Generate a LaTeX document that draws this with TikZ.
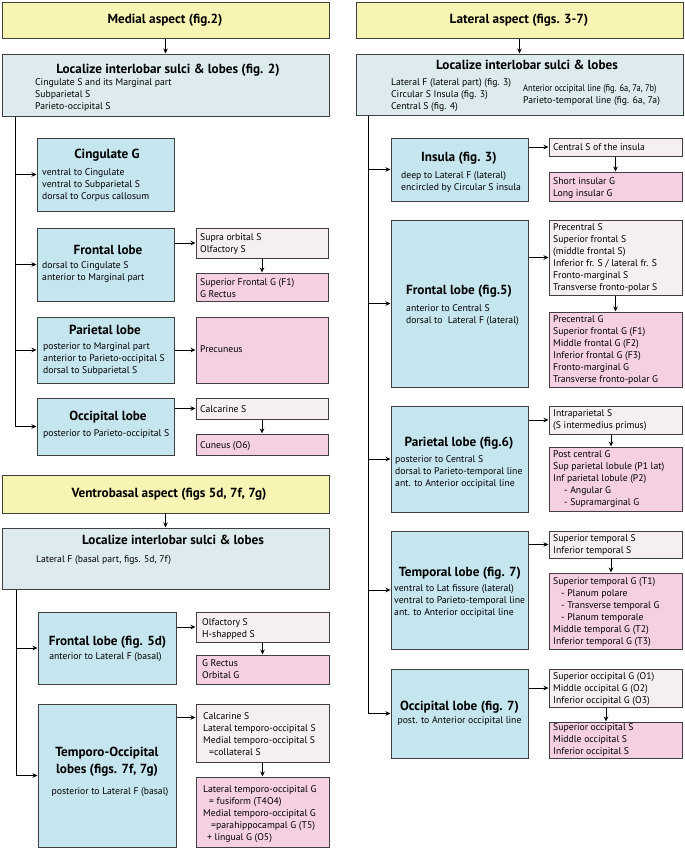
\documentclass[tikz,border=0pt]{standalone}
\usepackage{graphicx}
\usepackage{fontspec}
\setmainfont{PT Sans}
\usetikzlibrary{arrows.meta,fit,calc}
\definecolor{cyel}{RGB}{248,244,180}
\definecolor{cloc}{RGB}{221,235,239}
\definecolor{clobe}{RGB}{198,230,239}
\definecolor{csul}{RGB}{245,238,242}
\definecolor{cgyr}{RGB}{245,208,226}
\definecolor{cbord}{RGB}{64,64,64}
\newcommand\txtfont{\fontsize{9.7}{12}\selectfont}
\newcommand\ttlfont{\fontsize{13.2}{17}\selectfont\bfseries}
\begin{document}
\begin{tikzpicture}[x=1pt,y=-1pt,
 box/.style={draw=cbord, line width=1pt, inner sep=0pt},
 yel/.style={box, fill=cyel},
 loc/.style={box, fill=cloc},
 lobe/.style={box, fill=clobe},
 sul/.style={box, fill=csul},
 gyr/.style={box, fill=cgyr},
 ttl/.style={font=\ttlfont, inner sep=0pt},
 tx/.style={font=\txtfont, inner sep=0pt, anchor=north west, align=left, yshift=3.8pt},
 txc/.style={font=\txtfont, inner sep=0pt},
 arr/.style={-{Stealth[length=5pt,width=4.5pt]}, line width=0.9pt, black},
 ln/.style={line width=0.9pt, black}]
\useasboundingbox (0,0) rectangle (685,849);

% ---------- Medial aspect ----------
\node[yel, fit={(2,2) (329,38)}] (medial) {};
\node[ttl] (tmedial) at (165,20) {Medial aspect (fig.2)};
\node[loc, fit={(2,54) (329,116)}] (loc1) {};
\node[ttl] (tloc1) at (168,70) {Localize interlobar sulci \& lobes (fig. 2)};
\node[tx] (bloc1) at (35,82) {Cingulate S and its Marginal part\\Subparietal S\\Parieto-occipital S};

\node[lobe, fit={(37,138) (174,211)}] (cing) {};
\node[ttl] (tcing) at (107,155) {Cingulate G};
\node[tx] (bcing) at (42,172) {ventral to Cingulate\\ventral to Subparietal S\\dorsal to Corpus callosum};

\node[lobe, fit={(37,228) (174,301)}] (front1) {};
\node[ttl] (tfront1) at (108,250) {Frontal lobe};
\node[tx] (bfront1) at (42,265) {dorsal to Cingulate S\\anterior to Marginal part};
\node[sul, fit={(196,228) (328,258)}] (supra) {};
\node[tx] (bsupra) at (200,237) {Supra orbital S\\Olfactory S};
\node[gyr, fit={(196,273) (328,301)}] (sfg) {};
\node[tx] (bsfg) at (200,282) {Superior Frontal G (F1)\\G Rectus};

\node[lobe, fit={(37,317) (174,383)}] (par1) {};
\node[ttl] (tpar1) at (105,330) {Parietal lobe};
\node[tx] (bpar1) at (43,346) {posterior to Marginal part\\anterior to Parieto-occipital S\\dorsal to Subparietal S};
\node[gyr, fit={(196,317) (328,383)}] (prec) {};
\node[tx] (bprec) at (200,349) {Precuneus};

\node[lobe, fit={(37,398) (174,455)}] (occ1) {};
\node[ttl] (tocc1) at (108,417) {Occipital lobe};
\node[tx] (bocc1) at (43,433) {posterior to Parieto-occipital S};
\node[sul, fit={(196,398) (328,419)}] (calc1) {};
\node[tx] (bcalc1) at (200,409) {Calcarine S};
\node[gyr, fit={(196,434) (328,455)}] (cun) {};
\node[tx] (bcun) at (200,445) {Cuneus (O6)};

\draw[arr] (medial.south) -- (loc1.north);
\coordinate (sp1) at ($(loc1.south west)+(14,0)$);
\draw[arr] (sp1) |- (occ1.west);
\draw[arr] (sp1 |- cing.west) -- (cing.west);
\draw[arr] (sp1 |- front1.west) -- (front1.west);
\draw[arr] (sp1 |- par1.west) -- (par1.west);
\draw[arr] (front1.east |- supra.west) -- (supra.west);
\draw[arr] (par1.east |- prec.west) -- (prec.west);
\draw[arr] (occ1.east |- calc1.west) -- (calc1.west);
\draw[arr] (supra.south) -- (sfg.north);
\draw[arr] (calc1.south) -- (cun.north);

% ---------- Ventrobasal aspect ----------
\node[yel, fit={(2,475) (329,513)}] (ventro) {};
\node[ttl] (tventro) at (169,494) {Ventrobasal aspect (figs 5d, 7f, 7g)};
\node[loc, fit={(2,528) (329,589)}] (loc3) {};
\node[ttl] (tloc3) at (173,540) {Localize interlobar sulci \& lobes};
\node[tx] (bloc3) at (36,559) {Lateral F (basal part, figs. 5d, 7f)};

\node[lobe, fit={(38,612) (176,684)}] (front3) {};
\node[ttl] (tfront3) at (107.5,642) {Frontal lobe (fig. 5d)};
\node[txc] (bfront3) at (105.5,657) {anterior to Lateral F (basal)};
\node[sul, fit={(196,612) (329,642)}] (olf) {};
\node[tx] (bolf) at (202,622) {Olfactory S\\H-shapped S};
\node[gyr, fit={(196,655) (329,684)}] (grect) {};
\node[tx] (bgrect) at (202,663) {G Rectus\\Orbital G};

\node[lobe, fit={(38,704) (176,847)}] (tocc) {};
\node[ttl, align=center] (ttocc) at (107,761.5) {Temporo-Occipital\\lobes (figs. 7f, 7g)};
\node[txc] (btocc) at (110,792) {posterior to Lateral F (basal)};
\node[sul, fit={(196,704) (329,762)}] (calc2) {};
\node[tx] (bcalc2) at (203,716) {Calcarine S\\Lateral temporo-occipital S\\Medial temporo-occipital S\\\hspace{6pt}=collateral S};
\node[gyr, fit={(196,777) (329,847)}] (ltog) {};
\node[tx] (bltog) at (203,789) {Lateral temporo-occipital G\\\hspace{6pt}= fusiform (T4O4)\\Medial temporo-occipital G\\\hspace{8pt}=parahippocampal G (T5)\\\hspace{4pt}+ lingual G (O5)};

\draw[arr] (ventro.south) -- (loc3.north);
\coordinate (sp3) at ($(loc3.south west)+(15,0)$);
\draw[arr] (sp3) |- (tocc.west);
\draw[arr] (sp3 |- front3.west) -- (front3.west);
\draw[arr] (front3.east |- olf.west) -- (olf.west);
\coordinate (c2in) at ($(calc2.north west)+(0,14)$);
\draw[arr] (tocc.east |- c2in) -- (c2in);
\draw[arr] (olf.south) -- (grect.north);
\draw[arr] (calc2.south) -- (ltog.north);

% ---------- Lateral aspect ----------
\node[yel, fit={(356,2) (683,38)}] (lateral) {};
\node[ttl] (tlateral) at (519,20) {Lateral aspect (figs. 3-7)};
\node[loc, fit={(356,54) (683,115)}] (loc2) {};
\node[ttl] (tloc2) at (527,65) {Localize interlobar sulci \& lobes};
\node[tx] (bloc2a) at (391,82) {Lateral F (lateral part) (fig. 3)\\Circular S Insula (fig. 3)\\Central S (fig. 4)};
\node[tx] (bloc2b) at (523,88) {\scalebox{0.87}[1]{Anterior occipital line (fig. 6a, 7a, 7b)}\\Parieto-temporal line (fig. 6a, 7a)};

\node[lobe, fit={(391,138) (528,201)}] (ins) {};
\node[ttl] (tins) at (459,158) {Insula (fig. 3)};
\node[tx] (bins) at (401,175) {deep to Lateral F (lateral)\\encircled by Circular S insula};
\node[sul, fit={(549,138) (682,156)}] (csi) {};
\node[tx] (bcsi) at (553,147) {Central S of the insula};
\node[gyr, fit={(549,172) (682,201)}] (sig) {};
\node[tx] (bsig) at (553,181) {Short insular G\\Long insular G};

\node[lobe, fit={(391,220) (528,387)}] (front2) {};
\node[ttl] (tfront2) at (459,291) {Frontal lobe (fig.5)};
\node[tx] (bfront2) at (406,308) {anterior to Central S\\dorsal to\ \ Lateral F (lateral)};
\node[sul, fit={(549,220) (682,295)}] (pcs) {};
\node[tx] (bpcs) at (553,227.5) {Precentral S\\Superior frontal S\\(middle frontal S)\\Inferior fr. S / lateral fr. S\\Fronto-marginal S\\Transverse fronto-polar S};
\node[gyr, fit={(549,312) (682,387)}] (pcg) {};
\node[tx] (bpcg) at (553,319) {Precentral G\\Superior frontal G (F1)\\Middle frontal G (F2)\\Inferior frontal G (F3)\\Fronto-marginal G\\Transverse fronto-polar G};

\node[lobe, fit={(391,406) (528,512)}] (par2) {};
\node[ttl] (tpar2) at (459,443) {Parietal lobe (fig.6)};
\node[tx] (bpar2) at (395,459) {posterior to Central S\\dorsal to Parieto-temporal line\\ant. to Anterior occipital line};
\node[sul, fit={(549,406) (682,434)}] (ips) {};
\node[tx] (bips) at (553,413) {Intraparietal S\\(S intermedius primus)};
\node[gyr, fit={(549,447) (682,511)}] (pocg) {};
\node[tx] (bpocg) at (553,454) {Post central G\\Sup parietal lobule (P1 lat)\\Inf parietal lobule (P2)\\\hspace{11pt}- Angular G\\\hspace{11pt}- Supramarginal G};

\node[lobe, fit={(391,531) (528,649)}] (tem) {};
\node[ttl] (ttem) at (460,573) {Temporal lobe (fig. 7)};
\node[tx] (btem) at (394,588) {ventral to Lat fissure (lateral)\\ventral to Parieto-temporal line\\ant. to Anterior occipital line};
\node[sul, fit={(549,531) (682,558)}] (sts) {};
\node[tx] (bsts) at (553,538) {Superior temporal S\\Inferior temporal S};
\node[gyr, fit={(549,573) (682,649)}] (stg) {};
\node[tx] (bstg) at (553,581) {Superior temporal G (T1)\\\hspace{8pt}- Planum polare\\\hspace{8pt}- Transverse temporal G\\\hspace{8pt}- Planum temporale\\Middle temporal G (T2)\\Inferior temporal G (T3)};

\node[lobe, fit={(391,669) (528,758)}] (occ2) {};
\node[ttl] (tocc2) at (459.5,707) {Occipital lobe (fig. 7)};
\node[txc] (bocc2) at (459.5,721) {post. to Anterior occipital line};
\node[sul, fit={(549,669) (682,707)}] (sog) {};
\node[tx] (bsog) at (553,676) {Superior occipital G (O1)\\Middle occipital G (O2)\\Inferior occipital G (O3)};
\node[gyr, fit={(549,722) (682,758)}] (sos) {};
\node[tx] (bsos) at (553,727) {Superior occipital S\\Middle occipital S\\Inferior occipital S};

\draw[arr] (lateral.south) -- (loc2.north);
\coordinate (sp2) at ($(loc2.south west)+(13,0)$);
\draw[arr] (sp2) |- (occ2.west);
\draw[arr] (sp2 |- ins.west) -- (ins.west);
\draw[arr] (sp2 |- front2.west) -- (front2.west);
\draw[arr] (sp2 |- par2.west) -- (par2.west);
\draw[arr] (sp2 |- tem.west) -- (tem.west);
\draw[arr] (ins.east |- csi.west) -- (csi.west);
\draw[arr] (front2.east |- pcs.west) -- (pcs.west);
\draw[arr] (par2.east |- ips.west) -- (ips.west);
\draw[arr] (tem.east |- sts.west) -- (sts.west);
\draw[arr] (occ2.east |- sog.west) -- (sog.west);
\draw[arr] (csi.south) -- (sig.north);
\draw[arr] (pcs.south) -- (pcg.north);
\draw[arr] ($(ips.south)+(-4.5,0)$) -- ($(pocg.north)+(-4.5,0)$);
\draw[arr] ($(sts.south)+(-4.5,0)$) -- ($(stg.north)+(-4.5,0)$);
\draw[arr] ($(sog.south)+(-9.5,0)$) -- ($(sos.north)+(-9.5,0)$);
\end{tikzpicture}
\end{document}
